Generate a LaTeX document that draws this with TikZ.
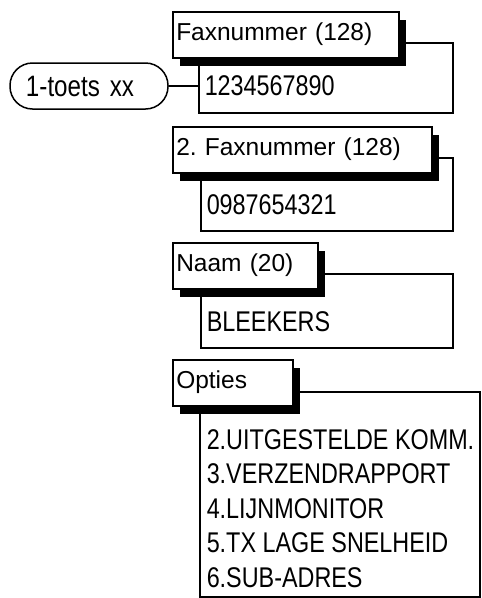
\documentclass[tikz,border=0pt]{standalone}
\usepackage{fontspec}
\setmainfont{Liberation Sans}
\newfontfamily\narrowfont[FakeStretch=0.82]{Liberation Sans}
\newcommand\hdfont{\fontsize{24.5}{29}\selectfont}
\newcommand\bdfont{\narrowfont\fontsize{28.5}{34}\selectfont}
\newcommand\kyfont{\narrowfont\fontsize{29.5}{34}\selectfont}
\usetikzlibrary{positioning,shadows}
\frenchspacing

\begin{document}
\begin{tikzpicture}[
  x=1pt, y=-1pt,
  line width=1.5pt,
  headbox/.style={draw,fill=white,anchor=north west,minimum height=46pt,
    inner xsep=3.5pt,inner ysep=0pt,text height=18pt,text depth=6pt,
    align=left,text width=#1,font=\hdfont,
    drop shadow={shadow xshift=7pt,shadow yshift=-8pt,fill=black,opacity=1}},
  bodybox/.style={draw,anchor=north west,inner sep=0pt},
  bodytext/.style={anchor=base west,inner sep=0pt,font=\bdfont},
  keybox/.style={draw,rounded corners=22.5pt,minimum height=46pt,
    text width=126pt,inner xsep=16pt,inner ysep=0pt,align=left,font=\kyfont},
]
\useasboundingbox (0,0) rectangle (482,598);

% body boxes
\node[bodybox,minimum width=254pt,minimum height=70pt] (fax) at (198,42) {};
\node[bodybox,minimum width=252pt,minimum height=73pt] (faxtwo) at (200,157) {};
\node[bodybox,minimum width=252pt,minimum height=74pt] (naam) at (200,273) {};
\node[bodybox,minimum width=280pt,minimum height=205pt] (opties) at (199,391) {};

% headers
\node[headbox=219pt] (faxhead) at ([shift={(-26,-31)}]fax.north west) {Faxnummer (128)};
\node[headbox=252pt] (faxtwohead) at ([shift={(-28,-31)}]faxtwo.north west) {2. Faxnummer (128)};
\node[headbox=138pt] (naamhead) at ([shift={(-28,-31)}]naam.north west) {Naam (20)};
\node[headbox=113pt] (optieshead) at ([shift={(-27,-32)}]opties.north west) {Opties};

% contents
\node[bodytext] (faxval) at ([shift={(6,-18)}]fax.south west) {1234567890};
\node[bodytext] (faxtwoval) at ([shift={(6,-17)}]faxtwo.south west) {0987654321};
\node[bodytext] (naamval) at ([shift={(6,-17)}]naam.south west) {BLEEKERS};
\foreach \t [count=\i] in {2.UITGESTELDE KOMM.,3.VERZENDRAPPORT,4.LIJNMONITOR,5.TX LAGE SNELHEID,6.SUB-ADRES}
  \node[bodytext] (opt\i) at ([shift={(7,{58+34.5*(\i-1)})}]opties.north west) {\t};

% key
\node[keybox] (key) at (89,86) {1-toets xx};
\draw (key) -- (key -| fax.west);
\end{tikzpicture}
\end{document}
